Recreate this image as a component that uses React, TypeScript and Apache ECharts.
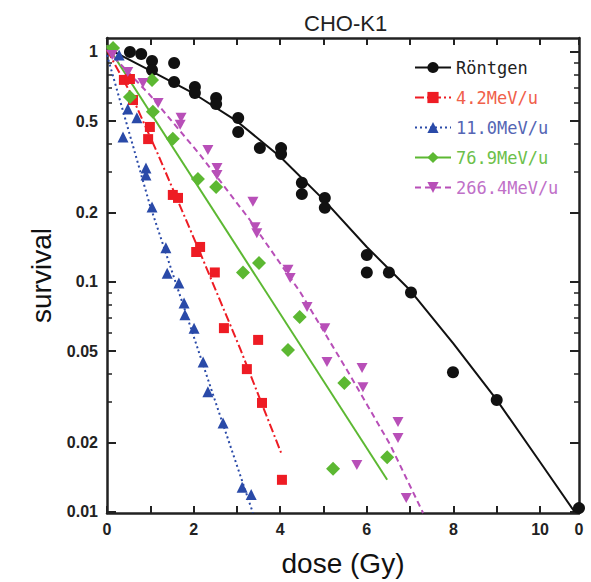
import { useEffect, useRef } from "react";
import * as echarts from "echarts";

// ---------- data ----------
const TITLE = "CHO-K1";
const X_NAME = "dose (Gy)";
const Y_NAME = "survival";
const X_MIN = 0;
const X_MAX = 10.9;
const X_STEP = 1;
const Y_MIN = 0.0099;
const Y_MAX = 1.15;
const Y_LABELS = [1, 0.5, 0.2, 0.1, 0.05, 0.02, 0.01];
const Y_MINOR = [0.03, 0.04, 0.06, 0.07, 0.08, 0.09, 0.3, 0.4, 0.6, 0.7, 0.8, 0.9];
const X_LABELED = [0, 2, 4, 6, 8, 10];
const X_EDGE_LABEL = "0";

const SERIES_NAMES = ["Röntgen", "4.2MeV/u", "11.0MeV/u", "76.9MeV/u", "266.4MeV/u"];

// Röntgen
const xrayDose = [0.53, 0.79, 1.04, 1.04, 1.55, 1.55, 2.03, 2.03, 2.52, 2.52, 3.03, 3.03, 3.53, 4.02, 4.02, 4.5, 4.5, 5.03, 5.03, 6.0, 6.0, 6.51, 7.02, 7.99, 9.0, 10.9];
const xraySurv = [1.0, 0.98, 0.914, 0.835, 0.896, 0.74, 0.705, 0.663, 0.631, 0.594, 0.516, 0.449, 0.382, 0.382, 0.36, 0.27, 0.241, 0.232, 0.21, 0.131, 0.11, 0.11, 0.09, 0.0405, 0.0307, 0.0104];
const xrayFitDose = [0, 1, 2, 3, 4, 5, 6, 7, 8, 9, 10, 10.8];
const xrayFitSurv = [1.04, 0.83, 0.66, 0.5, 0.35, 0.228, 0.142, 0.092, 0.054, 0.0307, 0.0165, 0.01];

// 4.2 MeV/u
const c42Dose = [0.39, 0.53, 0.6, 0.99, 0.95, 1.52, 1.64, 2.06, 2.15, 2.49, 2.7, 3.49, 3.23, 3.58, 4.04];
const c42Surv = [0.756, 0.763, 0.618, 0.472, 0.418, 0.239, 0.232, 0.135, 0.142, 0.11, 0.063, 0.056, 0.0418, 0.0298, 0.0138];
const c42FitDose = [0, 0.53, 1.155, 2.15, 3.07, 4.04];
const c42FitSurv = [1.02, 0.67, 0.367, 0.134, 0.0516, 0.0177];

// 11.0 MeV/u
const c11Dose = [0.28, 0.48, 0.69, 0.37, 0.9, 0.9, 1.04, 1.36, 1.39, 1.66, 1.78, 1.8, 2.01, 2.22, 2.33, 2.68, 3.12, 3.33];
const c11Surv = [0.97, 0.565, 0.517, 0.427, 0.313, 0.292, 0.212, 0.141, 0.109, 0.099, 0.081, 0.072, 0.063, 0.0449, 0.0333, 0.0244, 0.0128, 0.0119];
const c11FitDose = [0, 0.99, 2.49, 3.37];
const c11FitSurv = [0.97, 0.216, 0.0307, 0.0099];

// 76.9 MeV/u
const c77Dose = [0.14, 1.04, 0.53, 1.06, 1.52, 2.1, 2.52, 3.14, 3.51, 4.18, 4.45, 5.48, 6.47, 5.22];
const c77Surv = [1.04, 0.756, 0.637, 0.55, 0.419, 0.28, 0.259, 0.11, 0.121, 0.0506, 0.0705, 0.0364, 0.0173, 0.0154];
const c77FitDose = [0, 6.47];
const c77FitSurv = [1.07, 0.0138];

// 266.4 MeV/u
const c266Dose = [0.12, 0.48, 0.83, 1.18, 1.71, 1.69, 2.33, 2.54, 2.54, 3.37, 3.42, 3.46, 4.18, 4.23, 4.62, 5.03, 5.08, 5.89, 5.91, 6.72, 6.72, 5.77, 6.91];
const c266Surv = [0.97, 0.819, 0.733, 0.6, 0.517, 0.482, 0.375, 0.313, 0.292, 0.223, 0.173, 0.163, 0.113, 0.104, 0.0778, 0.063, 0.0449, 0.0423, 0.0349, 0.0246, 0.021, 0.016, 0.0115];
const c266FitDose = [0, 0.99, 2.15, 3.3, 4.46, 5.61, 6.54, 7.3];
const c266FitSurv = [1.02, 0.65, 0.357, 0.186, 0.0905, 0.0394, 0.0196, 0.0099];

// ---------- styling ----------
const COLORS = ["#111111", "#ee1c24", "#2a4aa8", "#5cb832", "#b84fb8"];
const LEGEND_TEXT = ["#222222", "#f0604a", "#5566b4", "#6cc04a", "#c070c8"];
const LINE_TYPES: any[] = ["solid", [9, 3, 2, 3], [2, 3], "solid", [6, 4]];
const SYMBOLS = ["circle", "rect", "triangle", "diamond", "path://M0,0 L10,0 L5,9 Z"];
const SYMBOL_SIZES: any[] = [12, 10, 11, [14, 14], [11, 10]];

const pts = (xs: number[], ys: number[]) => xs.map((x, i) => [x, ys[i]]);

const POINTS = [
  pts(xrayDose, xraySurv),
  pts(c42Dose, c42Surv),
  pts(c11Dose, c11Surv),
  pts(c77Dose, c77Surv),
  pts(c266Dose, c266Surv),
];
const FITS = [
  pts(xrayFitDose, xrayFitSurv),
  pts(c42FitDose, c42FitSurv),
  pts(c11FitDose, c11FitSurv),
  pts(c77FitDose, c77FitSurv),
  pts(c266FitDose, c266FitSurv),
];

const AXIS_COLOR = "#222";
const LABEL_FONT = { fontFamily: "Liberation Sans", fontSize: 16, fontWeight: "bold" as const, color: "#222" };

export default function App() {
  const ref = useRef<HTMLDivElement>(null);
  useEffect(() => {
    if (!ref.current) return;
    const chart = echarts.init(ref.current, undefined, { renderer: "svg" });

    const axisLine = { show: true, onZero: false, lineStyle: { color: AXIS_COLOR, width: 2.5 } };
    const yBase: any = {
      type: "log",
      logBase: 10,
      min: Y_MIN,
      max: Y_MAX,
      splitLine: { show: false },
      minorTick: { show: false },
      axisLine: { show: false, onZero: false },
      axisLabel: { show: false },
      axisTick: { show: false },
    };
    const majorTick = { show: true, inside: true, length: 9, customValues: Y_LABELS, lineStyle: { color: AXIS_COLOR, width: 2 } };
    const minorTick = { show: true, inside: true, length: 5, customValues: Y_MINOR, lineStyle: { color: AXIS_COLOR, width: 1.5 } };
    const xBase: any = {
      type: "value",
      min: X_MIN,
      max: X_MAX,
      interval: X_STEP,
      splitLine: { show: false },
      axisLine,
      axisTick: { show: true, inside: true, length: 7, lineStyle: { color: AXIS_COLOR, width: 2 } },
    };

    const series: any[] = [];
    SERIES_NAMES.forEach((name, i) => {
      series.push({
        name,
        type: "line",
        data: FITS[i],
        showSymbol: false,
        symbol: SYMBOLS[i],
        symbolSize: SYMBOL_SIZES[i],
        itemStyle: { color: COLORS[i] },
        lineStyle: { color: COLORS[i], width: 2, type: LINE_TYPES[i] },
        z: 2,
        silent: true,
        clip: true,
      });
    });
    SERIES_NAMES.forEach((name, i) => {
      series.push({
        name: name + " data",
        type: "scatter",
        data: POINTS[i],
        symbol: SYMBOLS[i],
        symbolSize: SYMBOL_SIZES[i],
        itemStyle: { color: COLORS[i], opacity: 1 },
        z: 3,
        silent: true,
      });
    });

    chart.setOption({
      animation: false,
      backgroundColor: "#ffffff",
      title: {
        text: TITLE,
        left: 299,
        top: 7,
        textStyle: { fontFamily: "Liberation Sans", fontSize: 22, fontWeight: "normal", color: "#222" },
      },
      grid: { left: 107, right: 12, top: 38, bottom: 69, containLabel: false },
      legend: {
        data: SERIES_NAMES.map((n, i) => ({ name: n, textStyle: { color: LEGEND_TEXT[i] } })),
        orient: "vertical",
        left: 409,
        top: 54,
        itemWidth: 36,
        itemHeight: 14,
        itemGap: 13,
        selectedMode: false,
        textStyle: { fontFamily: "DejaVu Sans Mono", fontSize: 17 },
      },
      xAxis: [
        {
          ...xBase,
          position: "bottom",
          axisLabel: {
            ...LABEL_FONT,
            margin: 8,
            showMaxLabel: true,
            formatter: (v: number) =>
              Math.abs(v - X_MAX) < 1e-6 ? X_EDGE_LABEL : X_LABELED.includes(Math.round(v)) && Math.abs(v - Math.round(v)) < 1e-6 ? String(Math.round(v)) : "",
          },
          name: X_NAME,
          nameLocation: "middle",
          nameGap: 36,
          nameTextStyle: { fontFamily: "Liberation Sans", fontSize: 28, color: "#111" },
        },
        { ...xBase, position: "top", axisLabel: { show: false } },
      ],
      yAxis: [
        {
          ...yBase,
          position: "left",
          axisLine,
          axisTick: majorTick,
          axisLabel: {
            show: true,
            ...LABEL_FONT,
            margin: 9,
            customValues: Y_LABELS,
            formatter: (v: number) => String(Number(Number(v).toPrecision(3))),
          },
          name: Y_NAME,
          nameLocation: "middle",
          nameGap: 45,
          nameTextStyle: { fontFamily: "Liberation Sans", fontSize: 28, color: "#111" },
        },
        { ...yBase, position: "left", axisTick: minorTick },
        { ...yBase, position: "right", axisLine, axisTick: majorTick },
        { ...yBase, position: "right", axisTick: minorTick },
      ],
      series,
    });
    return () => chart.dispose();
  }, []);
  return <div ref={ref} style={{ position: "fixed", left: 0, top: 0, width: 591, height: 582 }} />;
}
